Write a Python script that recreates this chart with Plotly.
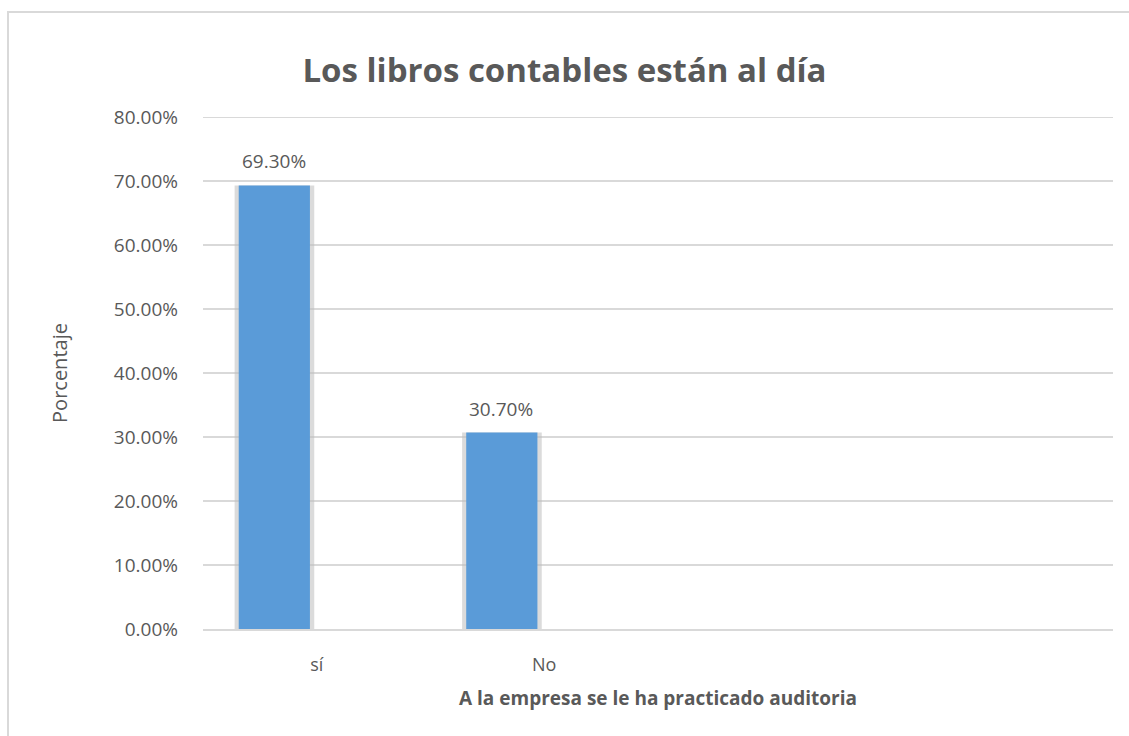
import plotly.graph_objects as go

# data
categorias = ["sí", "No"]
porcentajes = [0.693, 0.307]
y_ticks = [0, 0.1, 0.2, 0.3, 0.4, 0.5, 0.6, 0.7, 0.8]

titulo = "Los libros contables están al día"
titulo_x = "A la empresa se le ha practicado auditoria"
titulo_y = "Porcentaje"

gris_texto = "#595959"
gris_linea = "#d9d9d9"

fig = go.Figure()

# soft shadow behind the bars
fig.add_trace(go.Bar(
    x=categorias, y=porcentajes,
    width=0.35, offset=-0.361,
    marker=dict(color="rgba(190,190,190,0.55)", line=dict(width=0)),
    hoverinfo="skip", showlegend=False,
))

# main bars
fig.add_trace(go.Bar(
    x=categorias, y=porcentajes,
    width=0.313, offset=-0.343,
    marker=dict(color="#5a9bd8", line=dict(width=0)),
    showlegend=False,
))

# value labels above each bar (bars sit left of the category centre)
for cat, val in zip(categorias, porcentajes):
    fig.add_annotation(
        x=cat, y=val, xref="x", yref="y",
        text=f"{val:.2%}", showarrow=False,
        xanchor="center", yanchor="bottom",
        xshift=-43, yshift=9,
        font=dict(size=19, color=gris_texto),
    )

fig.update_layout(
    width=1129, height=736,
    barmode="overlay",
    plot_bgcolor="white",
    paper_bgcolor="white",
    font=dict(family="Open Sans", color=gris_texto, size=19),
    margin=dict(l=203, r=16, t=117, b=107),
    title=dict(
        text="<b>" + titulo + "</b>",
        x=0.5, xanchor="center",
        y=1 - 70 / 736, yanchor="middle",
        font=dict(size=33, color=gris_texto),
    ),
    shapes=[
        # chart border (only top and left edges fall inside the picture)
        dict(
            type="rect", xref="paper", yref="paper",
            x0=-195 / 910, x1=1200 / 910,
            y0=-200 / 512, y1=1 + (117 - 12) / 512,
            line=dict(color=gris_linea, width=2),
        ),
        # top gridline, which plotly drops at the edge of the range
        dict(
            type="line", xref="paper", yref="y",
            x0=0, x1=1, y0=y_ticks[-1], y1=y_ticks[-1],
            line=dict(color=gris_linea, width=2),
        ),
    ],
)

fig.update_xaxes(
    type="category",
    categoryorder="array", categoryarray=categorias,
    range=[-0.5, 3.5],
    showgrid=False,
    showline=True, linecolor=gris_linea, linewidth=1.5,
    ticks="", ticklabelstandoff=19,
    tickfont=dict(size=18, color=gris_texto),
    title=dict(text="<b>" + titulo_x + "</b>", font=dict(size=19, color=gris_texto), standoff=16),
)

fig.update_yaxes(
    range=[0, 0.8],
    tickvals=y_ticks,
    tickformat=".2%",
    showgrid=True, gridcolor=gris_linea, gridwidth=1.5,
    zeroline=False,
    ticks="", ticklabelstandoff=24,
    tickfont=dict(size=19, color=gris_texto),
    title=dict(text=titulo_y, font=dict(size=20, color=gris_texto), standoff=40),
)

fig.write_html(
    "out.html",
    config={"displayModeBar": False},
    post_script="document.body.style.margin='0';",
)
